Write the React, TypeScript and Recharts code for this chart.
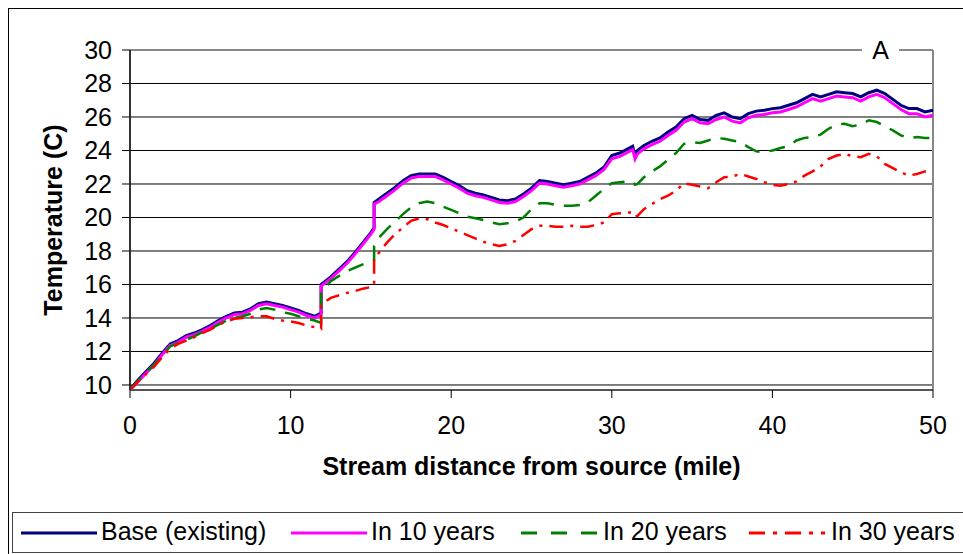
import { LineChart, Line, XAxis, YAxis, CartesianGrid, ReferenceLine, Legend } from 'recharts';

// stream distance (mile); repeated values mark the two step changes
const miles = [
    0, 0.5, 1, 1.5, 2, 2.5, 3, 3.5, 4, 4.5, 5, 5.5, 6, 6.5, 7, 7.5, 8, 8.5, 9, 9.5, 10, 10.5, 11, 11.5,
    11.9, 11.9, 12.5, 13, 13.5, 14, 14.5, 15, 15.2, 15.2,
    15.5, 16, 16.5, 17, 17.5, 18, 18.5, 19, 19.5, 20, 20.5, 21, 21.5, 22, 22.5, 23, 23.5, 24,
    24.5, 25, 25.5, 26, 26.5, 27, 27.5, 28, 28.5, 29, 29.5, 30, 30.5, 31, 31.3, 31.45, 31.6,
    32, 32.5, 33, 33.5, 34, 34.5, 35, 35.5, 36, 36.5, 37, 37.5, 38, 38.5, 39, 39.5, 40,
    40.5, 41, 41.5, 42, 42.5, 43, 43.5, 44, 44.5, 45, 45.5, 46, 46.5, 47, 47.5, 48, 48.5, 49, 49.5, 50,
];

const baseTemp = [
    9.75, 10.3, 10.8, 11.3, 11.9, 12.45, 12.65, 12.95, 13.1, 13.3, 13.55, 13.85, 14.1, 14.3, 14.35, 14.55, 14.85, 14.95, 14.85, 14.75, 14.6, 14.45, 14.25, 14.1,
    14.3, 16.0, 16.45, 16.9, 17.35, 17.9, 18.5, 19.1, 19.4, 20.9,
    21.1, 21.45, 21.8, 22.2, 22.5, 22.6, 22.6, 22.6, 22.4, 22.15, 21.9, 21.6, 21.45, 21.35, 21.2, 21.05, 21.0, 21.1,
    21.4, 21.75, 22.2, 22.15, 22.05, 21.95, 22.05, 22.15, 22.4, 22.65, 23.0, 23.7, 23.85, 24.1, 24.25, 23.7, 24.0,
    24.3, 24.55, 24.75, 25.1, 25.4, 25.9, 26.1, 25.85, 25.8, 26.1, 26.25, 26.0, 25.9, 26.2, 26.35, 26.4, 26.5,
    26.55, 26.7, 26.85, 27.1, 27.35, 27.2, 27.35, 27.5, 27.45, 27.4, 27.2, 27.45, 27.6, 27.4, 27.05, 26.7, 26.5, 26.5, 26.3, 26.4,
];

const in10Temp = [
    9.7, 10.2, 10.7, 11.2, 11.8, 12.35, 12.55, 12.85, 13.0, 13.2, 13.45, 13.75, 14.0, 14.2, 14.25, 14.45, 14.75, 14.85, 14.75, 14.65, 14.5, 14.35, 14.15, 14.0,
    14.2, 15.9, 16.35, 16.8, 17.25, 17.8, 18.4, 19.0, 19.3, 20.8,
    20.95, 21.3, 21.65, 22.05, 22.35, 22.45, 22.45, 22.45, 22.25, 22.0, 21.75, 21.45, 21.3, 21.2, 21.05, 20.9, 20.85, 20.95,
    21.25, 21.6, 22.05, 22.0, 21.9, 21.8, 21.9, 22.0, 22.25, 22.5, 22.85, 23.5, 23.65, 23.9, 24.05, 23.5, 23.8,
    24.1, 24.35, 24.55, 24.9, 25.2, 25.7, 25.9, 25.65, 25.6, 25.85, 26.0, 25.75, 25.65, 25.95, 26.1, 26.15, 26.25,
    26.3, 26.45, 26.6, 26.85, 27.1, 26.95, 27.1, 27.25, 27.2, 27.15, 26.95, 27.2, 27.35, 27.15, 26.8, 26.45, 26.2, 26.2, 26.0, 26.1,
];

const in20Temp = [
    9.75, 10.25, 10.75, 11.2, 11.75, 12.3, 12.5, 12.7, 12.9, 13.15, 13.35, 13.6, 13.85, 14.0, 14.1, 14.25, 14.5, 14.6, 14.5, 14.35, 14.25, 14.1, 13.95, 13.85,
    13.7, 15.5, 16.2, 16.5, 16.8, 17.0, 17.2, 17.4, 17.45, 18.3,
    18.8, 19.3, 19.75, 20.2, 20.6, 20.85, 20.95, 20.85, 20.65, 20.45, 20.25, 20.05, 19.95, 19.85, 19.7, 19.6, 19.65, 19.75,
    20.0, 20.5, 20.85, 20.85, 20.75, 20.7, 20.7, 20.75, 20.9, 21.3, 21.7, 22.05, 22.1, 22.15, 22.15, 21.95, 22.0,
    22.4, 22.75, 23.05, 23.45, 23.85, 24.4, 24.5, 24.45, 24.6, 24.75, 24.7, 24.6, 24.5, 24.2, 23.95, 23.9, 24.0,
    24.15, 24.25, 24.6, 24.75, 24.8, 24.95, 25.3, 25.55, 25.6, 25.45, 25.55, 25.8, 25.7, 25.45, 25.2, 24.9, 24.75, 24.8, 24.75, 24.75,
];

const in30Temp = [
    9.7, 10.2, 10.65, 11.1, 11.65, 12.15, 12.45, 12.65, 12.85, 13.1, 13.3, 13.6, 13.8, 13.95, 14.0, 14.05, 14.1, 14.1, 13.95, 13.85, 13.8, 13.7, 13.55, 13.45,
    13.35, 14.8, 15.2, 15.35, 15.5, 15.6, 15.75, 15.85, 15.95, 17.5,
    17.9, 18.5, 19.0, 19.4, 19.8, 19.95, 19.9, 19.7, 19.55, 19.35, 19.15, 18.95, 18.75, 18.55, 18.4, 18.3, 18.4, 18.6,
    18.95, 19.3, 19.5, 19.5, 19.45, 19.45, 19.5, 19.45, 19.45, 19.55, 19.7, 20.2, 20.25, 20.3, 20.3, 20.05, 20.1,
    20.5, 20.8, 21.1, 21.3, 21.6, 22.05, 21.95, 21.85, 21.75, 22.1, 22.4, 22.45, 22.6, 22.45, 22.3, 22.1, 21.95,
    21.9, 22.0, 22.15, 22.5, 22.75, 23.05, 23.5, 23.7, 23.8, 23.65, 23.6, 23.8, 23.65, 23.2, 22.95, 22.7, 22.5, 22.6, 22.75, 22.75,
];

const xTicks = [0, 10, 20, 30, 40, 50];
const yTicks = [10, 12, 14, 16, 18, 20, 22, 24, 26, 28, 30];

const series = [
    { key: 'base', name: 'Base (existing)', color: '#000080', width: 3, dash: undefined },
    { key: 'in10', name: 'In 10 years', color: '#FF00FF', width: 3, dash: undefined },
    { key: 'in20', name: 'In 20 years', color: '#008000', width: 2.5, dash: '16 10' },
    { key: 'in30', name: 'In 30 years', color: '#FF0000', width: 2.5, dash: '14 7 3 7' },
];

const FONT = '"Liberation Sans", Arial, sans-serif';

// legend sample positions, matching the reference layout
const legendSlots = [
    { lineX: 8, textX: 88, sampleDash: undefined },
    { lineX: 278, textX: 358, sampleDash: undefined },
    { lineX: 508, textX: 590, sampleDash: '16 14' },
    { lineX: 736, textX: 818, sampleDash: '16 8 4 8' },
];

function renderLegend() {
    return (
        <div style={{ position: 'relative', width: 951, height: 39, fontFamily: FONT, fontSize: 25, color: '#000' }}>
            {series.map((s, i) => {
                const slot = legendSlots[i];
                return (
                    <div key={s.key}>
                        <svg width={78} height={10} style={{ position: 'absolute', left: slot.lineX, top: 15 }}>
                            <line x1={0} y1={5} x2={76} y2={5} stroke={s.color} strokeWidth={3} strokeDasharray={slot.sampleDash} />
                        </svg>
                        <span style={{ position: 'absolute', left: slot.textX, top: 4, whiteSpace: 'nowrap' }}>{s.name}</span>
                    </div>
                );
            })}
        </div>
    );
}

export default function App() {
    const data = miles.map((mile, i) => ({
        mile,
        base: baseTemp[i],
        in10: in10Temp[i],
        in20: in20Temp[i],
        in30: in30Temp[i],
    }));

    return (
        <div style={{ position: 'absolute', left: 0, top: 0, width: 963, height: 554, background: '#fff', overflow: 'hidden', fontFamily: FONT }}>
            {/* outer chart frame */}
            <div style={{ position: 'absolute', left: 8, top: 8, width: 980, height: 560, border: '1px solid #000' }} />

            <div style={{ position: 'absolute', left: 0, top: 0 }}>
                <LineChart
                    width={963}
                    height={554}
                    data={data}
                    margin={{ top: 50, right: 30, left: 50, bottom: 74 }}
                    style={{ fontFamily: FONT }}
                >
                    <CartesianGrid vertical={false} stroke="#000" strokeWidth={1} />
                    <XAxis
                        type="number"
                        dataKey="mile"
                        domain={[0, 50]}
                        ticks={xTicks}
                        height={90}
                        tickSize={8}
                        tickMargin={18}
                        tick={{ fontSize: 25, fill: '#000' }}
                        axisLine={{ stroke: '#555', strokeWidth: 2 }}
                        tickLine={{ stroke: '#000' }}
                        label={{
                            value: 'Stream distance from source (mile)',
                            position: 'insideBottom',
                            offset: 5,
                            style: { fontSize: 25, fontWeight: 'bold', fill: '#000' },
                        }}
                    />
                    <YAxis
                        type="number"
                        domain={[10, 30]}
                        ticks={yTicks}
                        width={80}
                        tickSize={8}
                        tickMargin={10}
                        tick={{ fontSize: 25, fill: '#000' }}
                        axisLine={{ stroke: '#333', strokeWidth: 2 }}
                        tickLine={{ stroke: '#000' }}
                        label={{
                            value: 'Temperature (C)',
                            angle: -90,
                            position: 'insideLeft',
                            offset: 3,
                            style: { fontSize: 25, fontWeight: 'bold', fill: '#000', textAnchor: 'middle' },
                        }}
                    />
                    <ReferenceLine y={30} stroke="#888" strokeWidth={2} />
                    <ReferenceLine x={50} stroke="#888" strokeWidth={2} />
                    <Legend
                        layout="horizontal"
                        verticalAlign="middle"
                        align="center"
                        content={renderLegend}
                        wrapperStyle={{ position: 'absolute', left: 12, top: 512, width: 951, height: 39, border: '1px solid #444', background: '#fff' }}
                    />
                    {series.map((s) => (
                        <Line
                            key={s.key}
                            type="linear"
                            dataKey={s.key}
                            name={s.name}
                            stroke={s.color}
                            strokeWidth={s.width}
                            strokeDasharray={s.dash}
                            dot={false}
                            activeDot={false}
                            isAnimationActive={false}
                        />
                    ))}
                </LineChart>
            </div>

            {/* panel letter sits on the top border */}
            <div
                style={{
                    position: 'absolute',
                    left: 862,
                    top: 36,
                    width: 37,
                    height: 28,
                    background: '#fff',
                    textAlign: 'center',
                    fontSize: 25,
                    lineHeight: '28px',
                    color: '#000',
                }}
            >
                A
            </div>
        </div>
    );
}
